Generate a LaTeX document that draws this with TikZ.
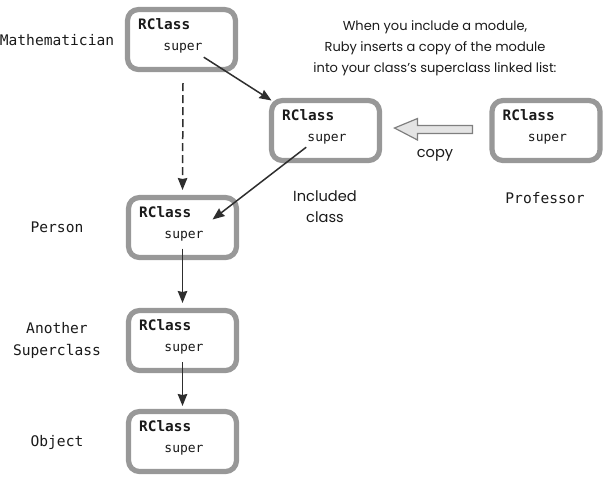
\documentclass[tikz,border=0pt]{standalone}
\usepackage{fontspec}
\setmainfont{Poppins}
\setmonofont{DejaVu Sans Mono}
\usetikzlibrary{arrows.meta,calc}
\definecolor{boxgray}{HTML}{989898}
\definecolor{inkc}{HTML}{1A1A1A}
\definecolor{arrc}{HTML}{2E2E2E}
\definecolor{copyfill}{HTML}{E4E4E4}
\definecolor{copyline}{HTML}{7F7F7F}
\begin{document}
\begin{tikzpicture}[x=1pt,y=-1pt,
  cbox/.style={draw=boxgray, line width=5.2pt, rounded corners=11pt, fill=white,
    minimum width=108pt, minimum height=60pt, inner sep=0pt, outer sep=0pt},
  rcl/.style={font=\ttfamily\bfseries\fontsize{14.4}{16}\selectfont, text=inkc, inner sep=0pt, anchor=west},
  sup/.style={font=\ttfamily\fontsize{13}{15}\selectfont, text=inkc, inner sep=0pt},
  lbl/.style={font=\ttfamily\fontsize{14.6}{22}\selectfont, text=inkc, align=center, inner sep=0pt},
  head/.style={font=\fontsize{13}{21}\selectfont, text=inkc, align=center, inner sep=0pt},
  captext/.style={font=\fontsize{14.6}{21}\selectfont, text=inkc, align=center, inner sep=0pt},
  link/.style={draw=arrc, line width=1.5pt, -{Stealth[length=12pt,width=9.5pt,inset=1pt]}},
  dlink/.style={link, dash pattern=on 8pt off 4pt}]
\useasboundingbox (0,0) rectangle (610,483);
\newcommand\rbox[3]{%
  \node[cbox] (#1) at (#2,#3) {};
  \node[rcl] (#1r) at ($(#1.center)+(-43.5,-15)$) {RClass};
  \node[sup] (#1s) at ($(#1.center)+(1.5,8.5)$) {super};}
\rbox{mat}{181.5}{39.5}
\rbox{inc}{325.5}{130.5}
\rbox{prof}{546}{130.5}
\rbox{per}{182.5}{227.5}
\rbox{ano}{182.5}{340.5}
\rbox{obj}{182.5}{441.5}
% labels
\node[lbl] (lmat) at (57,40) {Mathematician};
\node[lbl] (lper) at (57,227) {Person};
\node[lbl] (lano) at (57,340) {Another\\Superclass};
\node[lbl] (lobj) at (57,442) {Object};
\node[lbl] (lprof) at (545,198) {Professor};
\node[head] (hd) at (435,48) {When you include a module,\\Ruby inserts a copy of the module\\into your class’s superclass linked list:};
\node[captext] (lcopy) at (435,155) {copy};
\node[captext] (linc) at (325,207) {Included\\class};
% connectors
\draw[dlink] ($(mat.south)+(1.5,13.5)$) -- ($(per.north)+(0,-7.5)$);
\draw[link] ($(mats.south east)+(1,4)$) -- (inc.north west);
\draw[link] ($(incs.south west)+(-1,3)$) -- ($(per.center)+(30,-8)$);
\draw[link] ($(per.center)+(0,21)$) -- ($(ano.north)+(0,-7.5)$);
\draw[link] ($(ano.center)+(0,21.5)$) -- ($(obj.north)+(0,-5.5)$);
% copy arrow
\draw[draw=copyline, fill=copyfill, line width=1.2pt, line join=miter]
  ($(prof.west)+(-19.5,-5)$) -- ($(prof.west)+(-74.5,-5)$) -- ($(prof.west)+(-74.5,-12)$)
  -- ($(prof.west)+(-97.5,-2.5)$) -- ($(prof.west)+(-74.5,9.5)$) -- ($(prof.west)+(-74.5,3)$)
  -- ($(prof.west)+(-19.5,3)$) -- cycle;
\end{tikzpicture}
\end{document}
